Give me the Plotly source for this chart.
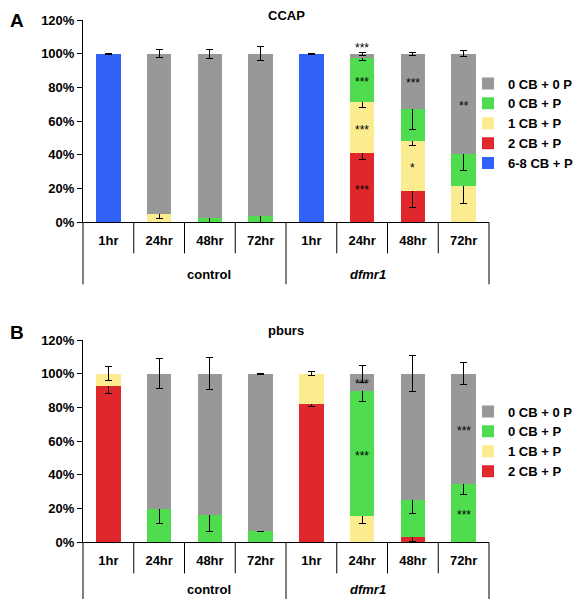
import plotly.graph_objects as go

categories = ["1hr", "24hr", "48hr", "72hr", "1hr", "24hr", "48hr", "72hr"]
groups = ["control", "<i>dfmr1</i>"]
yticks = [0, 20, 40, 60, 80, 100, 120]

# Panel A (CCAP), percentages per bar (stack order bottom -> top)
a_blue = [100, None, None, None, 100, None, None, None]
a_red = [None, None, None, None, None, 41.0, 18.7, None]
a_yellow = [None, 4.7, None, None, None, 30.4, 29.4, 21.5]
a_green = [None, None, 2.5, 3.7, None, 26.2, 19.4, 18.9]
a_gray = [None, 95.3, 97.5, 96.3, None, 2.4, 32.5, 59.6]
a_blue_err = [0.3, None, None, None, 0.3, None, None, None]
a_red_err = [None, None, None, None, None, 3.7, 9.9, None]
a_yellow_err = [None, 2.2, None, None, None, 3.5, 2.4, 10.5]
a_green_err = [None, None, 2.8, 4.0, None, 1.5, 12.2, 9.6]
a_gray_err = [None, 2.4, 2.7, 4.0, None, 1.0, 1.0, 1.8]
# significance: (bar index, series, label)
a_sig = [(5, "red", "***"), (5, "yellow", "***"), (5, "green", "***"), (5, "gray", "***"),
         (6, "yellow", "*"), (6, "gray", "***"), (7, "gray", "**")]

# Panel B (pburs)
b_red = [92.5, None, None, None, 82.0, None, 3.0, None]
b_yellow = [7.5, None, None, None, 18.0, 15.6, None, None]
b_green = [None, 20.0, 16.1, 6.7, None, 74.2, 22.4, 34.8]
b_gray = [None, 80.0, 83.9, 93.3, None, 10.2, 74.6, 65.2]
b_red_err = [4.0, None, None, None, 1.3, None, 2.5, None]
b_yellow_err = [4.0, None, None, None, 1.3, 4.3, None, None]
b_green_err = [None, 9.0, 9.6, 0.3, None, 6.0, 8.2, 6.3]
b_gray_err = [None, 9.0, 9.6, 0.3, None, 5.0, 10.8, 6.4]
b_sig = [(5, "gray", "***"), (5, "green", "***"), (7, "gray", "***"), (7, "green", "***")]

COL = {"blue": "#3062f7", "red": "#e0282c", "yellow": "#fbec8f",
       "green": "#4fdc4f", "gray": "#989898"}
FONT = "Arial, Liberation Sans, sans-serif"
OFF = 8                      # page body margin
W, H = 581 - OFF, 599 - OFF  # figure size inside the window
xpos = list(range(len(categories)))


def fx(px):  # window px -> figure fraction
    return (px - OFF) / W


def fy(py):
    return 1 - (py - OFF) / H


fig = go.Figure()


def add_panel(series, xa, ya, legend):
    for name, key, vals, errs in series:
        fig.add_trace(go.Bar(
            x=xpos, y=vals, name=name, xaxis=xa, yaxis=ya, width=0.48,
            marker=dict(color=COL[key], line=dict(width=0)),
            error_y=dict(type="data", array=errs, color="black", thickness=1, width=3.5),
            legend=legend, hoverinfo="skip"))


add_panel([("6-8 CB + P", "blue", a_blue, a_blue_err),
           ("2 CB + P", "red", a_red, a_red_err),
           ("1 CB + P", "yellow", a_yellow, a_yellow_err),
           ("0 CB + P", "green", a_green, a_green_err),
           ("0 CB + 0 P", "gray", a_gray, a_gray_err)], "x", "y", "legend")
add_panel([("2 CB + P", "red", b_red, b_red_err),
           ("1 CB + P", "yellow", b_yellow, b_yellow_err),
           ("0 CB + P", "green", b_green, b_green_err),
           ("0 CB + 0 P", "gray", b_gray, b_gray_err)], "x2", "y2", "legend2")


def sig_annots(order, data, sigs, xr, yr):
    out = []
    for i, key, txt in sigs:
        base = 0
        for k in order:
            v = data[k][i]
            if k == key:
                break
            base += v or 0
        val = data[key][i]
        y = base + val / 2
        shift = -2
        if val < 6:
            y = base + val
            shift = 6
        out.append(dict(x=i, y=y, xref=xr, yref=yr, text=txt, showarrow=False,
                        yshift=shift, font=dict(family=FONT, size=12, color="black")))
    return out


annots = []
annots += sig_annots(["blue", "red", "yellow", "green", "gray"],
                     {"blue": a_blue, "red": a_red, "yellow": a_yellow, "green": a_green, "gray": a_gray},
                     a_sig, "x", "y")
annots += sig_annots(["red", "yellow", "green", "gray"],
                     {"red": b_red, "yellow": b_yellow, "green": b_green, "gray": b_gray},
                     b_sig, "x2", "y2")

dom_x = [fx(83), fx(489)]
dom_a = [fy(222.3), fy(20)]
dom_b = [fy(542.4), fy(340)]
ph = 202.3  # panel height in px

shapes = []
for xa, ya, gap in [("x", "y", 52.5), ("x2", "y2", 47)]:
    n = len(categories)
    for b in range(n + 1):
        long_ = b % 4 == 0
        shapes.append(dict(type="line", xref=xa + " domain", yref=ya + " domain",
                           x0=b / n, x1=b / n, y0=0, y1=-(62 if long_ else 31) / ph,
                           line=dict(color="black", width=1)))
    for g, name in enumerate(groups):
        annots.append(dict(x=(g + 0.5) / len(groups), y=-gap / ph, xref=xa + " domain",
                           yref=ya + " domain", text="<b>" + name + "</b>", showarrow=False,
                           font=dict(family=FONT, size=13, color="black"), yanchor="middle"))

# panel titles and letters
annots.append(dict(x=(dom_x[0] + dom_x[1]) / 2, y=1, xref="paper", yref="paper", yshift=2,
                   text="<b>CCAP</b>", showarrow=False, yanchor="top",
                   font=dict(family=FONT, size=13, color="black")))
annots.append(dict(x=0, y=1, xref="paper", yref="paper", xanchor="left",
                   text="<b>A</b>", showarrow=False, yanchor="top",
                   font=dict(family=FONT, size=19, color="black")))
annots.append(dict(x=(dom_x[0] + dom_x[1]) / 2, y=fy(330), xref="paper", yref="paper",
                   text="<b>pburs</b>", showarrow=False, yanchor="middle",
                   font=dict(family=FONT, size=13, color="black")))
annots.append(dict(x=0, y=fy(333), xref="paper", yref="paper", xanchor="left",
                   text="<b>B</b>", showarrow=False, yanchor="middle",
                   font=dict(family=FONT, size=19, color="black")))

xax = dict(domain=dom_x, range=[-0.5, 7.5], tickvals=xpos, ticktext=["<b>%s</b>" % c for c in categories],
           showline=True, linecolor="black", linewidth=1, ticks="", showgrid=False, zeroline=False,
           ticklabelstandoff=6, tickfont=dict(family=FONT, size=13, color="black"), fixedrange=True)
yax = dict(range=[0, 120], tickvals=yticks, ticktext=["<b>%d%%</b>" % t for t in yticks],
           showline=True, linecolor="black", linewidth=1, ticks="outside", ticklen=5,
           tickcolor="black", showgrid=False, zeroline=False,
           tickfont=dict(family=FONT, size=13, color="black"))

leg = dict(traceorder="reversed", font=dict(family=FONT, size=13, color="black", weight="bold"),
           xanchor="left", yanchor="top", bgcolor="rgba(0,0,0,0)", itemwidth=30,
           tracegroupgap=0, itemclick=False, xref="container", yref="container")

fig.update_layout(
    width=W, height=H, margin=dict(l=0, r=0, t=0, b=0, autoexpand=False),
    paper_bgcolor="white", plot_bgcolor="white", barmode="stack",
    xaxis=dict(xax, anchor="y"), yaxis=dict(yax, domain=dom_a, anchor="x"),
    xaxis2=dict(xax, anchor="y2"), yaxis2=dict(yax, domain=dom_b, anchor="x2"),
    legend=dict(leg, x=fx(468), y=fy(68.5)),
    legend2=dict(leg, x=fx(468), y=fy(396.5)),
    annotations=annots, shapes=shapes, showlegend=True,
)

fig.write_html("out.html")
